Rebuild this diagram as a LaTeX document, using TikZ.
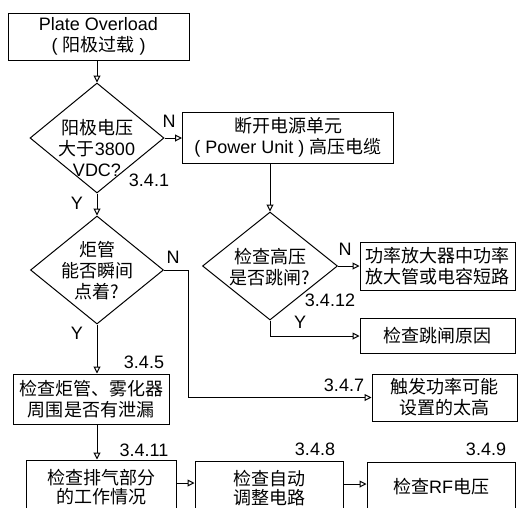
\documentclass[tikz,border=0pt]{standalone}
\usepackage{fontspec}
\setmainfont{Liberation Sans}
\newfontfamily\cjk{Noto Sans CJK SC}
\newcommand\ZH[1]{{\cjk #1}}
\usetikzlibrary{shapes.geometric,arrows.meta}
\begin{document}
\begin{tikzpicture}[x=1pt,y=-1pt,
 every node/.style={font=\fontsize{18}{21}\selectfont},
 box/.style={draw, line width=1pt, rectangle, align=center, inner sep=0pt},
 dia/.style={draw, line width=1pt, diamond, inner sep=0pt},
 txt/.style={align=center, inner sep=0pt},
 lbl/.style={inner sep=0pt},
 arr/.style={line width=1pt, -{Triangle[open,length=7pt,width=7pt]}},
 ln/.style={line width=1pt}]
\useasboundingbox (0,0) rectangle (521,507);
\clip (0,0) rectangle (521,507);

% boxes
\node[box, minimum width=181pt, minimum height=47pt] (b1) at (98.5,36.5) {Plate Overload\\( \ZH{阳极过载} )};
\node[box, minimum width=211pt, minimum height=51pt] (b2) at (288,137.5) {\ZH{断开电源单元}\\( Power Unit ) \ZH{高压电缆}};
\node[box, minimum width=155pt, minimum height=48pt] (b3) at (437.5,266) {\ZH{功率放大器中功率}\\\ZH{放大管或电容短路}};
\node[box, minimum width=155pt, minimum height=35pt] (b4) at (437.5,336) {\ZH{检查跳闸原因}};
\node[box, minimum width=156pt, minimum height=50pt] (b5) at (91,399) {\ZH{检查炬管、雾化器}\\\ZH{周围是否有泄漏}};
\node[box, minimum width=145pt, minimum height=47pt] (b6) at (444.5,397.5) {\ZH{触发功率可能}\\\ZH{设置的太高}};
\node[box, minimum width=150pt, minimum height=54pt, font=\fontsize{18}{19}\selectfont] (b7) at (101,487) {\ZH{检查排气部分}\\\ZH{的工作情况}};
\node[box, minimum width=148pt, minimum height=54pt, font=\fontsize{18}{19}\selectfont] (b8) at (269,488) {\ZH{检查自动}\\\ZH{调整电路}};
\node[box, minimum width=148pt, minimum height=50pt] (b9) at (441,487) {\ZH{检查}RF\ZH{电压}};

% diamonds
\node[dia, minimum width=134pt, minimum height=110pt] (d1) at (97,138) {};
\node[txt] (d1t) at (97,148) {\ZH{阳极电压}\\\ZH{大于}3800\\VDC?};
\node[dia, minimum width=133pt, minimum height=108pt] (d2) at (97,270) {};
\node[txt] (d2t) at (97,271) {\ZH{炬管}\\\ZH{能否瞬间}\\\ZH{点着?}};
\node[dia, minimum width=135pt, minimum height=108pt] (d3) at (270,266) {};
\node[txt] (d3t) at (270,267) {\ZH{检查高压}\\\ZH{是否跳闸?}};

% labels
\node[lbl] (n1) at (169,121) {N};
\node[lbl] (l341) at (149,180) {3.4.1};
\node[lbl] (y1) at (77,203) {Y};
\node[lbl] (n2) at (173,257) {N};
\node[lbl] (y2) at (77,333) {Y};
\node[lbl] (l345) at (144,362) {3.4.5};
\node[lbl] (l347) at (344,385) {3.4.7};
\node[lbl] (l3411) at (144,450) {3.4.11};
\node[lbl] (l348) at (315,449) {3.4.8};
\node[lbl] (l349) at (486,449) {3.4.9};
\node[lbl] (n3) at (345,249) {N};
\node[lbl] (l3412) at (330,300) {3.4.12};
\node[lbl] (y3) at (300,322) {Y};

% connectors
\draw[arr] (b1.south -| d1.north) -- (d1.north);
\draw[arr] (d1.east) -- (d1.east -| b2.west);
\draw[arr] (d1.south) -- (d2.north);
\draw[arr] (d3.north |- b2.south) -- (d3.north);
\draw[arr] (d3.east) -- (d3.east -| b3.west);
\draw[arr] (d3.south) |- (b4.west);
\coordinate (c1) at ([xshift=24pt]d2.east);
\draw[arr] (d2.east) -- (c1) |- (b6.west);
\draw[arr] (d2.south) -- (d2.south |- b5.north);
\draw[arr] (d2.south |- b5.south) -- (d2.south |- b7.north);
\draw[arr] ([yshift=4pt]b7.east) -- ([yshift=4pt]b7.east -| b8.west);
\draw[arr] ([yshift=4pt]b8.east) -- ([yshift=4pt]b8.east -| b9.west);
\end{tikzpicture}
\end{document}
